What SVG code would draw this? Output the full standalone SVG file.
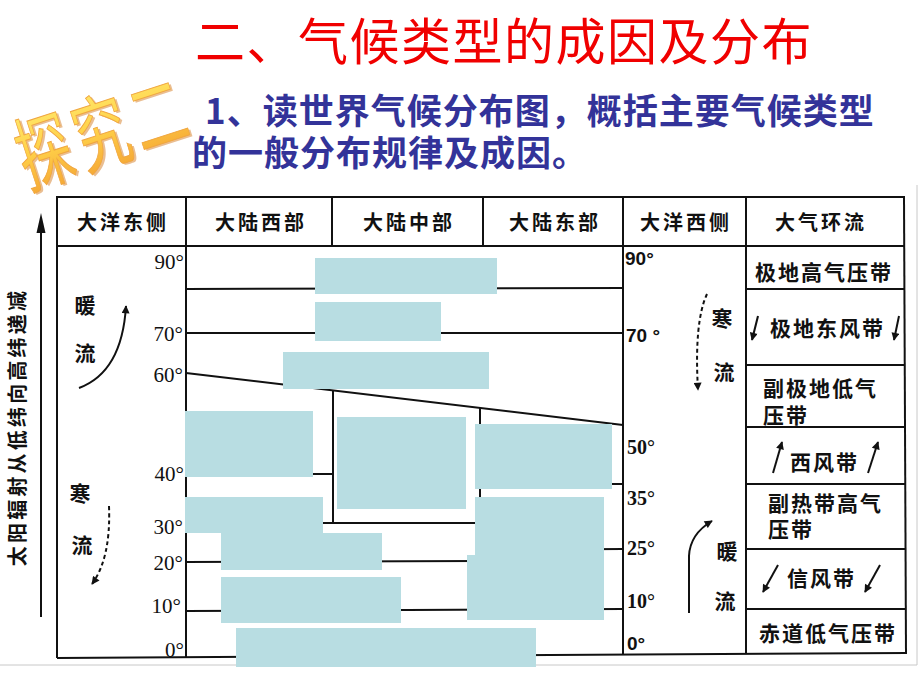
<svg xmlns="http://www.w3.org/2000/svg" width="920" height="690" viewBox="0 0 920 690">
<style>
.cjk{font-family:"Noto Sans CJK SC","Noto Sans CJK JP",sans-serif;}
.hd{font-size:20px;font-weight:700;fill:#111;letter-spacing:3px;text-anchor:middle;}
.rc{font-size:21px;font-weight:700;fill:#111;letter-spacing:2px;}
.cur{font-size:21px;font-weight:700;fill:#111;text-anchor:middle;}
.degL{font-family:"Liberation Serif",serif;font-size:21px;fill:#111;text-anchor:end;}
.degR{font-family:"Liberation Serif",serif;font-size:20px;font-weight:700;fill:#111;}
.degRs{font-family:"Liberation Sans",sans-serif;font-size:19px;font-weight:700;fill:#111;}
.ln{stroke:#111;stroke-width:2;fill:none;}
.box{fill:#b8dde2;}
.arr{stroke:#111;stroke-width:2;fill:none;}
.dash{stroke:#111;stroke-width:2;fill:none;stroke-dasharray:4 3;}
</style>
<defs>
<marker id="ah" viewBox="0 0 10 10" refX="9" refY="5" markerWidth="9" markerHeight="8" markerUnits="userSpaceOnUse" orient="auto">
<path d="M0,0 L10,5 L0,10 z" fill="#111"/>
</marker>
<linearGradient id="gold" x1="0" y1="0" x2="0" y2="1">
<stop offset="0" stop-color="#fff27a"/>
<stop offset="0.5" stop-color="#ffd24a"/>
<stop offset="1" stop-color="#f29a2e"/>
</linearGradient>
</defs>
<rect width="920" height="690" fill="#fff"/>

<g id="title">
<text class="cjk" x="195" y="60" font-size="50" font-weight="400" fill="#f00000" letter-spacing="1.5">二、气候类型的成因及分布</text>
</g>
<g id="subtitle">
<text class="cjk" font-size="35" font-weight="700" fill="#333399" letter-spacing="1"><tspan x="205" y="124">1、读世界气候分布图，概括主要气候类型</tspan><tspan x="192" y="166">的一般分布规律及成因。</tspan></text>
</g>
<g id="tanjiu">
<g transform="translate(28,189) rotate(-18) scale(0.95,1.45)">
<text class="cjk" x="2" y="1.5" font-size="57" font-weight="400" fill="#d98a3a" opacity="0.55" letter-spacing="6">探究二</text>
<text class="cjk" x="0" y="0" font-size="57" font-weight="400" fill="url(#gold)" stroke="#f0a640" stroke-width="0.7" letter-spacing="6">探究二</text>
</g>
</g>

<g id="frame">
<line x1="0" y1="665" x2="917" y2="665" stroke="#c8c8c8" stroke-width="1"/>
<line x1="917" y1="185" x2="917" y2="665" stroke="#c8c8c8" stroke-width="1"/>
</g>

<g id="axis">
<line x1="41" y1="230" x2="41" y2="617" class="arr"/>
<path d="M41,213 L45.5,233 L36.5,233 z" fill="#111"/>
<text class="cjk" transform="translate(17,427) rotate(-90)" x="0" y="7.6" font-size="20" font-weight="700" fill="#111" letter-spacing="3.2" text-anchor="middle">太阳辐射从低纬向高纬递减</text>
</g>

<g id="connectors">
<line class="ln" x1="56" y1="197" x2="905" y2="197"/>
<line class="ln" x1="57" y1="246" x2="904" y2="246"/>
<line class="ln" x1="57" y1="197" x2="57" y2="658"/>
<line class="ln" x1="57" y1="658" x2="907" y2="653"/>
<line class="ln" x1="186" y1="197" x2="186" y2="658"/>
<line class="ln" x1="332" y1="197" x2="332" y2="246"/>
<line class="ln" x1="483" y1="197" x2="483" y2="246"/>
<line class="ln" x1="623" y1="197" x2="623" y2="655"/>
<line class="ln" x1="746" y1="197" x2="746" y2="654"/>
<line class="ln" x1="904" y1="197" x2="906" y2="653"/>
<line class="ln" x1="186" y1="289" x2="623" y2="288"/>
<line class="ln" x1="186" y1="333" x2="623" y2="333"/>
<line class="ln" x1="186" y1="373" x2="623" y2="425"/>
<line class="ln" x1="333" y1="391" x2="333" y2="523"/>
<line class="ln" x1="480" y1="408" x2="480" y2="523"/>
<line class="ln" x1="186" y1="474" x2="333" y2="474"/>
<line class="ln" x1="480" y1="484" x2="623" y2="484"/>
<line class="ln" x1="186" y1="523" x2="480" y2="523"/>
<line class="ln" x1="480" y1="550" x2="623" y2="549"/>
<line class="ln" x1="186" y1="562" x2="480" y2="561"/>
<line class="ln" x1="186" y1="611" x2="623" y2="609"/>
<line class="ln" x1="746" y1="289" x2="904" y2="289"/>
<line class="ln" x1="746" y1="365" x2="905" y2="365"/>
<line class="ln" x1="746" y1="427" x2="905" y2="427"/>
<line class="ln" x1="746" y1="484" x2="905" y2="484"/>
<line class="ln" x1="746" y1="549" x2="906" y2="549"/>
<line class="ln" x1="746" y1="609" x2="906" y2="609"/>
<path class="arr" d="M79,388 Q122,372 126,306" marker-end="url(#ah)"/>
<path class="dash" d="M109,506 Q111,558 92,584" marker-end="url(#ah)"/>
<path class="dash" d="M707,294 Q694,322 698,390" marker-end="url(#ah)"/>
<path class="arr" d="M689,613 L689,556 Q690,534 712,521" marker-end="url(#ah)"/>
<line class="arr" x1="758" y1="316" x2="752" y2="340" marker-end="url(#ah)"/>
<line class="arr" x1="899" y1="316" x2="894" y2="340" marker-end="url(#ah)"/>
<line class="arr" x1="773" y1="473" x2="782" y2="442" marker-end="url(#ah)"/>
<line class="arr" x1="868" y1="473" x2="878" y2="442" marker-end="url(#ah)"/>
<line class="arr" x1="778" y1="565" x2="763" y2="592" marker-end="url(#ah)"/>
<line class="arr" x1="880" y1="565" x2="865" y2="592" marker-end="url(#ah)"/>
</g>

<g id="headers">
<text class="cjk hd" x="123" y="230">大洋东侧</text>
<text class="cjk hd" x="261" y="230">大陆西部</text>
<text class="cjk hd" x="409" y="230">大陆中部</text>
<text class="cjk hd" x="555" y="230">大陆东部</text>
<text class="cjk hd" x="686" y="230">大洋西侧</text>
<text class="cjk hd" x="821" y="230">大气环流</text>
</g>

<g id="circulation">
<text class="cjk rc" x="755" y="280">极地高气压带</text>
<text class="cjk rc" x="770" y="336">极地东风带</text>
<text class="cjk rc"><tspan x="763" y="396">副极地低气</tspan><tspan x="763" y="423">压带</tspan></text>
<text class="cjk rc" x="790" y="470">西风带</text>
<text class="cjk rc"><tspan x="768" y="511">副热带高气</tspan><tspan x="768" y="537">压带</tspan></text>
<text class="cjk rc" x="787" y="586">信风带</text>
<text class="cjk rc" x="759" y="641">赤道低气压带</text>
</g>

<g id="currents">
<text class="cjk cur" x="85" y="313">暖</text>
<text class="cjk cur" x="85" y="361">流</text>
<text class="cjk cur" x="80" y="501">寒</text>
<text class="cjk cur" x="82" y="553">流</text>
<text class="cjk cur" x="722" y="326">寒</text>
<text class="cjk cur" x="724" y="380">流</text>
<text class="cjk cur" x="727" y="559">暖</text>
<text class="cjk cur" x="725" y="609">流</text>
</g>

<g id="latitudes-left">
<text class="degL" x="184" y="269">90°</text>
<text class="degL" x="183" y="341">70°</text>
<text class="degL" x="183" y="382">60°</text>
<text class="degL" x="184" y="481">40°</text>
<text class="degL" x="183" y="534">30°</text>
<text class="degL" x="183" y="570">20°</text>
<text class="degL" x="181" y="613">10°</text>
<text class="degL" x="184" y="657">0°</text>
</g>

<g id="latitudes-right">
<text class="degRs" x="625" y="265">90°</text>
<text class="degRs" x="626" y="342">70 °</text>
<text class="degR" x="627" y="454">50°</text>
<text class="degR" x="627" y="505">35°</text>
<text class="degR" x="627" y="555">25°</text>
<text class="degR" x="627" y="608">10°</text>
<text class="degRs" x="627" y="650">0°</text>
</g>

<g id="masks">
<rect class="box" x="315" y="258" width="182" height="36"/>
<rect class="box" x="315" y="302" width="126" height="39"/>
<rect class="box" x="283" y="352" width="206" height="37"/>
<rect class="box" x="185" y="411" width="128" height="66"/>
<rect class="box" x="337" y="417" width="129" height="92"/>
<rect class="box" x="475" y="424" width="137" height="65"/>
<rect class="box" x="185" y="497" width="138" height="36"/>
<rect class="box" x="475" y="497" width="129" height="58"/>
<rect class="box" x="221" y="533" width="161" height="37"/>
<rect class="box" x="467" y="555" width="137" height="65"/>
<rect class="box" x="221" y="577" width="180" height="46"/>
<rect class="box" x="236" y="628" width="300" height="39"/>
</g>
</svg>
